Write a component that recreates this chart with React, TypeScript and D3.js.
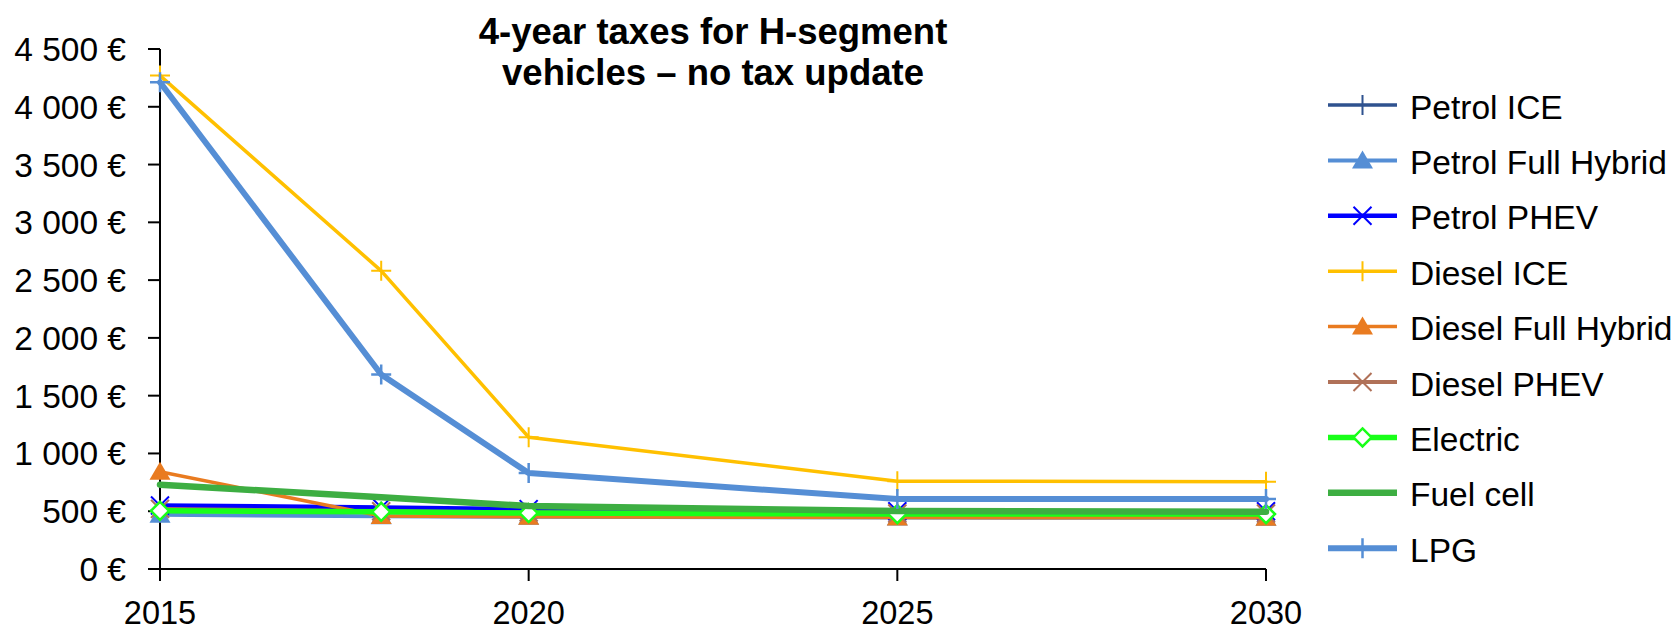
import React from "react";
import * as d3 from "d3";

// ---------- data ----------
const years = [2015, 2018, 2020, 2025, 2030];
const xTickYears = [2015, 2020, 2025, 2030];
const yTickValues = [0, 500, 1000, 1500, 2000, 2500, 3000, 3500, 4000, 4500];

const seriesNames = [
  "Petrol ICE",
  "Petrol Full Hybrid",
  "Petrol PHEV",
  "Diesel ICE",
  "Diesel Full Hybrid",
  "Diesel PHEV",
  "Electric",
  "Fuel cell",
  "LPG",
];

const petrolICE = [504, 495, 484, 475, 475];
const petrolFullHybrid = [470, 456, 452, 445, 443];
const petrolPHEV = [550, 533, 518, 500, 500];
const dieselICE = [4270, 2580, 1140, 760, 755];
const dieselFullHybrid = [841, 458, 452, 445, 443];
const dieselPHEV = [520, 500, 490, 480, 480];
const electric = [504, 495, 484, 475, 475];
const fuelCell = [730, 620, 545, 501, 496];
const lpg = [4212, 1683, 830, 605, 605];

const seriesValues = [
  petrolICE,
  petrolFullHybrid,
  petrolPHEV,
  dieselICE,
  dieselFullHybrid,
  dieselPHEV,
  electric,
  fuelCell,
  lpg,
];

// ---------- styles ----------
type Marker = "plus" | "triangle" | "x" | "diamond" | "none";
const styles: { color: string; width: number; marker: Marker; mw: number }[] = [
  { color: "#2F528F", width: 3.5, marker: "plus", mw: 2 },
  { color: "#558ED5", width: 4, marker: "triangle", mw: 0 },
  { color: "#0000FF", width: 4.5, marker: "x", mw: 2 },
  { color: "#FFC000", width: 3.5, marker: "plus", mw: 2 },
  { color: "#E97B20", width: 3.5, marker: "triangle", mw: 0 },
  { color: "#B07158", width: 4, marker: "x", mw: 2 },
  { color: "#19FF19", width: 5.5, marker: "diamond", mw: 2.5 },
  { color: "#3DAE42", width: 6.5, marker: "none", mw: 0 },
  { color: "#558ED5", width: 6, marker: "plus", mw: 2.5 },
];

const FONT = "'Liberation Sans', Arial, sans-serif";

const W = 1674;
const H = 632;
const left = 160;
const right = 1266;
const top = 49;
const bottom = 569;

const locale = d3.formatLocale({
  decimal: ",",
  thousands: " ",
  grouping: [3],
  currency: ["", " €"],
});
const fmt = locale.format("$,");

function markerPath(m: Marker): string {
  switch (m) {
    case "plus":
      return "M-10,0H10M0,-10V10";
    case "triangle":
      return "M0,-10L10.5,8L-10.5,8Z";
    case "x":
      return "M-9,-9L9,9M-9,9L9,-9";
    case "diamond":
      return "M0,-9L9,0L0,9L-9,0Z";
    default:
      return "";
  }
}

function MarkerShape({ m, color, sw, x, y }: { m: Marker; color: string; sw: number; x: number; y: number }) {
  if (m === "none") return null;
  const d = markerPath(m);
  if (m === "triangle") {
    return <path d={d} transform={`translate(${x},${y})`} fill={color} stroke="none" />;
  }
  if (m === "diamond") {
    return <path d={d} transform={`translate(${x},${y})`} fill="#FFFFFF" stroke={color} strokeWidth={sw} />;
  }
  return <path d={d} transform={`translate(${x},${y})`} fill="none" stroke={color} strokeWidth={sw} />;
}

export default function App() {
  const x = d3.scaleLinear().domain([2015, 2030]).range([left, right]);
  const y = d3.scaleLinear().domain([0, 4500]).range([bottom, top]);
  const line = d3
    .line<number>()
    .x((_, i) => x(years[i]))
    .y((v) => y(v));

  const legendX0 = 1328;
  const legendX1 = 1397;
  const legendTextX = 1410;
  const legendY0 = 105;
  const legendStep = 55.4;

  return (
    <svg
      width={W}
      height={H}
      style={{ position: "absolute", left: 0, top: 0, background: "#FFFFFF" }}
      fontFamily={FONT}
    >
      <rect x={0} y={0} width={W} height={H} fill="#FFFFFF" />
      {/* title */}
      <text x={713} y={44} textAnchor="middle" fontSize={36.5} fontWeight="bold" fill="#000">
        4-year taxes for H-segment
      </text>
      <text x={713} y={85} textAnchor="middle" fontSize={36.5} fontWeight="bold" fill="#000">
        vehicles – no tax update
      </text>

      {/* y axis */}
      <line x1={left} x2={left} y1={top} y2={bottom} stroke="#000" strokeWidth={2} />
      {yTickValues.map((v) => (
        <g key={v}>
          <line x1={left - 12} x2={left} y1={y(v)} y2={y(v)} stroke="#000" strokeWidth={2} />
          <text x={126} y={y(v) + 12} textAnchor="end" fontSize={33.5} fill="#000">
            {fmt(v)}
          </text>
        </g>
      ))}

      {/* x axis */}
      <line x1={left} x2={right} y1={bottom} y2={bottom} stroke="#000" strokeWidth={2} />
      {xTickYears.map((yr) => (
        <g key={yr}>
          <line x1={x(yr)} x2={x(yr)} y1={bottom} y2={bottom + 12} stroke="#000" strokeWidth={2} />
          <text x={x(yr)} y={624} textAnchor="middle" fontSize={32.5} fill="#000">
            {yr}
          </text>
        </g>
      ))}

      {/* series */}
      {seriesValues.map((vals, si) => {
        const st = styles[si];
        return (
          <g key={seriesNames[si]}>
            <path
              d={line(vals) || ""}
              fill="none"
              stroke={st.color}
              strokeWidth={st.width}
              strokeLinejoin="round"
              strokeLinecap="round"
            />
            {vals.map((v, i) => (
              <MarkerShape key={i} m={st.marker} color={st.color} sw={st.mw} x={x(years[i])} y={y(v)} />
            ))}
          </g>
        );
      })}

      {/* legend */}
      {seriesNames.map((name, si) => {
        const st = styles[si];
        const ly = legendY0 + si * legendStep;
        return (
          <g key={name}>
            <line x1={legendX0} x2={legendX1} y1={ly} y2={ly} stroke={st.color} strokeWidth={st.width} />
            <MarkerShape m={st.marker} color={st.color} sw={st.mw} x={(legendX0 + legendX1) / 2} y={ly} />
            <text x={legendTextX} y={ly + 13.5} fontSize={33.5} fill="#000">
              {name}
            </text>
          </g>
        );
      })}
    </svg>
  );
}
